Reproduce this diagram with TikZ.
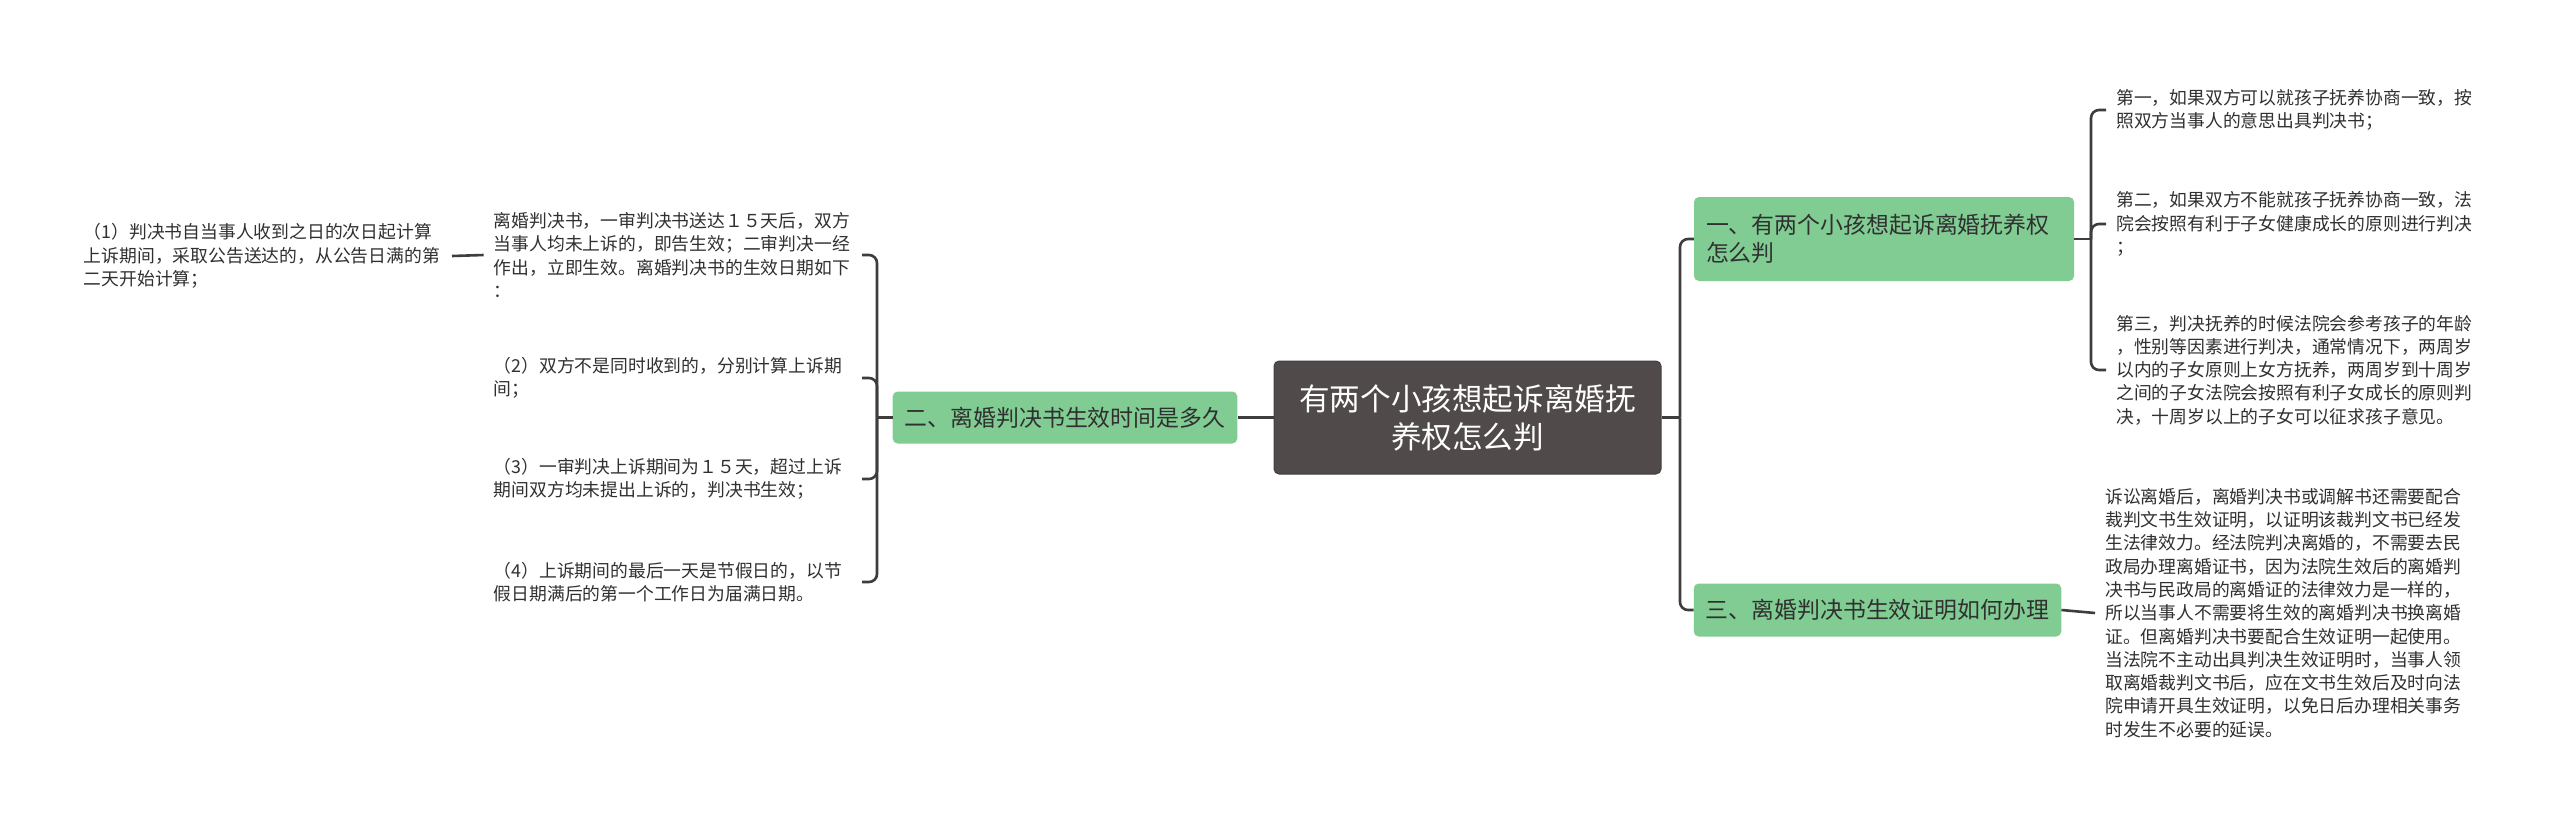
\documentclass[tikz,border=0pt]{standalone}
\usepackage{fontspec}
\setmainfont{Noto Sans CJK SC}
\usetikzlibrary{positioning,calc}
\definecolor{rootgray}{RGB}{80,74,74}
\definecolor{topicgreen}{RGB}{128,204,146}
\definecolor{linegray}{RGB}{62,60,60}
\definecolor{textgray}{RGB}{48,48,48}

\begin{document}
\begin{tikzpicture}[x=1pt,y=-1pt,
  root/.style={fill=rootgray, draw=rootgray!85!black, line width=1pt, rounded corners=5pt, text=white, align=center,
    minimum width=387pt, minimum height=113pt, font=\fontsize{30.6pt}{38pt}\selectfont},
  topic/.style={fill=topicgreen, rounded corners=5pt, text=textgray, align=left, inner xsep=12pt,
    font=\fontsize{22.9pt}{28.5pt}\selectfont},
  leaf/.style={text=textgray, align=left, text width=358pt, inner xsep=10pt, inner ysep=0pt,
    font=\fontsize{17.8pt}{23.3pt}\selectfont},
  link/.style={draw=linegray, line width=2.6pt, rounded corners=8pt}]

\useasboundingbox[fill=white] (0,0) rectangle (2560,823);

% Root
\node[root] (root) at (1467.5,417.5) {有两个小孩想起诉离婚抚\\养权怎么判};

% Topics
\node[topic, minimum height=52pt, left=36pt of root] (tdate) {二、离婚判决书生效时间是多久};
\node[topic, text width=356pt, minimum height=84pt] (tcustody) at (1884,239) {一、有两个小孩想起诉离婚抚养权\\怎么判};
\node[topic, minimum height=53pt] (tproof) at (1877.5,610) {三、离婚判决书生效证明如何办理};

% Left leaves
\node[leaf, anchor=east] (dmain) at (862,255) {离婚判决书，一审判决书送达１５天后，双方\\当事人均未上诉的，即告生效；二审判决一经\\作出，立即生效。离婚判决书的生效日期如下\\：};
\node[leaf, anchor=east] (done) at (452,256) {（1）判决书自当事人收到之日的次日起计算\\上诉期间，采取公告送达的，从公告日满的第\\二天开始计算；};
\node[leaf, anchor=east] (dtwo) at (862,378) {（2）双方不是同时收到的，分别计算上诉期\\间；};
\node[leaf, anchor=east] (dthree) at (862,479) {（3）一审判决上诉期间为１５天，超过上诉\\期间双方均未提出上诉的，判决书生效；};
\node[leaf, anchor=east] (dfour) at (862,582) {（4）上诉期间的最后一天是节假日的，以节\\假日期满后的第一个工作日为届满日期。};

% Right leaves
\node[leaf, anchor=west] (cone) at (2106,110) {第一，如果双方可以就孩子抚养协商一致，按\\照双方当事人的意思出具判决书；};
\node[leaf, anchor=west] (ctwo) at (2106,224) {第二，如果双方不能就孩子抚养协商一致，法\\院会按照有利于子女健康成长的原则进行判决\\；};
\node[leaf, anchor=west] (cthree) at (2106,370) {第三，判决抚养的时候法院会参考孩子的年龄\\，性别等因素进行判决，通常情况下，两周岁\\以内的子女原则上女方抚养，两周岁到十周岁\\之间的子女法院会按照有利子女成长的原则判\\决，十周岁以上的子女可以征求孩子意见。};
\node[leaf, anchor=west] (pone) at (2095,613) {诉讼离婚后，离婚判决书或调解书还需要配合\\裁判文书生效证明，以证明该裁判文书已经发\\生法律效力。经法院判决离婚的，不需要去民\\政局办理离婚证书，因为法院生效后的离婚判\\决书与民政局的离婚证的法律效力是一样的，\\所以当事人不需要将生效的离婚判决书换离婚\\证。但离婚判决书要配合生效证明一起使用。\\当法院不主动出具判决生效证明时，当事人领\\取离婚裁判文书后，应在文书生效后及时向法\\院申请开具生效证明，以免日后办理相关事务\\时发生不必要的延误。};

% Junctions
\coordinate (jroot) at (1680,417.5);
\coordinate (jdate) at (877,417.5);
\coordinate (jcustody) at (2091,239);

% Connectors
\draw[link] (root.west) -- (tdate.east);
\draw[link] (root.east) -- (jroot);
\draw[link] (jroot) |- (tcustody.west);
\draw[link] (jroot) |- (tproof.west);

\draw[link] (tdate.west) -- (jdate);
\foreach \leafname in {dmain,dtwo,dthree,dfour}
  \draw[link] (jdate) |- (\leafname.east);
\draw[link] (done.east) -- (dmain.west);

\draw[link] (tcustody.east) -- (jcustody);
\foreach \leafname in {cone,ctwo,cthree}
  \draw[link] (jcustody) |- (\leafname.west);
\draw[link] (tproof.east) -- (pone.west);
\end{tikzpicture}
\end{document}
